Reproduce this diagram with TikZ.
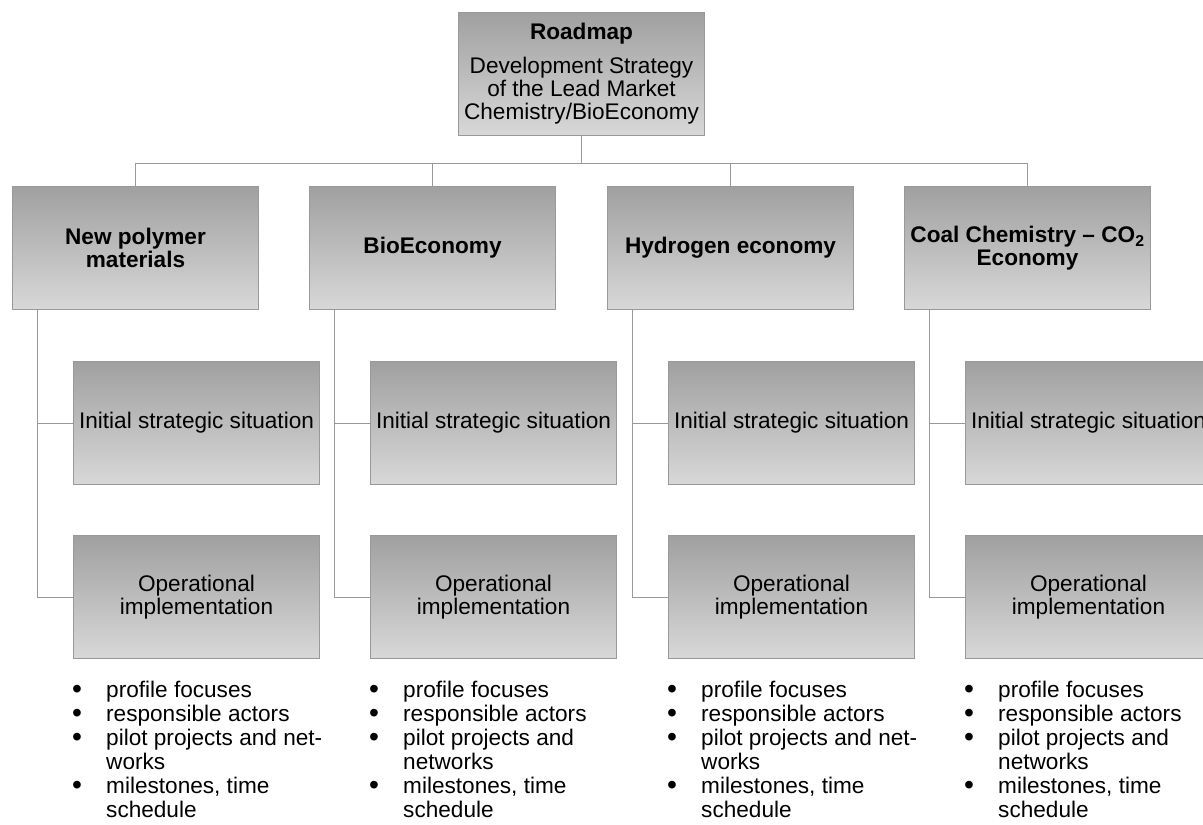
\documentclass[tikz,border=0pt]{standalone}
\usepackage{fontspec}
\setmainfont{Liberation Sans}
\definecolor{topgray}{HTML}{A0A0A0}
\definecolor{botgray}{HTML}{D8D8D8}
\definecolor{bordergray}{HTML}{999999}
\definecolor{linegray}{HTML}{999999}
\begin{document}
\begin{tikzpicture}[x=1pt,y=-1pt,
  box/.style={draw=bordergray, line width=1pt, top color=topgray, bottom color=botgray,
    minimum width=246pt, minimum height=123pt, inner sep=0pt, align=center, anchor=north west,
    font=\fontsize{22.6}{23}\selectfont},
  catbox/.style={box, font=\fontsize{22.6}{23}\selectfont\bfseries},
  conn/.style={draw=linegray, line width=1pt},
  bullets/.style={anchor=north west, inner sep=0pt, align=left,
    font=\fontsize{22.6}{24}\selectfont}
]
\useasboundingbox (0,0) rectangle (1203,825);
\fill[white] (0,0) rectangle (1203,825);

\node[box] (root) at (458,12) {\textbf{Roadmap}\\[11pt]Development Strategy\\of the Lead Market\\Chemistry/BioEconomy};

\node[catbox] (c1) at (12,186) {New polymer\\materials};
\node[catbox] (c2) at (309,186) {BioEconomy};
\node[catbox] (c3) at (607,186) {Hydrogen economy};
\node[catbox] (c4) at (904,186) {Coal Chemistry -- CO\textsubscript{2}\\Economy};

\foreach \i/\x in {1/73,2/370,3/668,4/965}{
  \node[box] (i\i) at (\x,361) {Initial strategic situation};
  \node[box] (o\i) at (\x,535) {Operational\\implementation};
}

% connectors
\coordinate (hub) at ([yshift=-27pt]root.south);
\draw[conn] (root.south) -- (hub);
\draw[conn] (c1.north |- hub) -- (c4.north |- hub);
\foreach \i in {1,...,4}{
  \draw[conn] (c\i.north |- hub) -- (c\i.north);
  \draw[conn] ([xshift=25pt]c\i.south west) |- (o\i.west);
  \draw[conn] ([xshift=25pt]c\i.south west |- i\i.west) -- (i\i.west);
}

% bullet lists
\newcommand{\blt}{\makebox[33pt][l]{\hspace{-1pt}\smash{\raisebox{-0.5pt}{\scalebox{1.25}{\textbullet}}}}}
\newcommand{\bind}{\hspace{33pt}}
\node[bullets] (b1) at (73,681) {\blt profile focuses\\\blt responsible actors\\\blt pilot projects and net-\\\bind works\\\blt milestones, time\\\bind schedule};
\node[bullets] (b2) at (370,681) {\blt profile focuses\\\blt responsible actors\\\blt pilot projects and\\\bind networks\\\blt milestones, time\\\bind schedule};
\node[bullets] (b3) at (668,681) {\blt profile focuses\\\blt responsible actors\\\blt pilot projects and net-\\\bind works\\\blt milestones, time\\\bind schedule};
\node[bullets] (b4) at (965,681) {\blt profile focuses\\\blt responsible actors\\\blt pilot projects and\\\bind networks\\\blt milestones, time\\\bind schedule};
\end{tikzpicture}
\end{document}
